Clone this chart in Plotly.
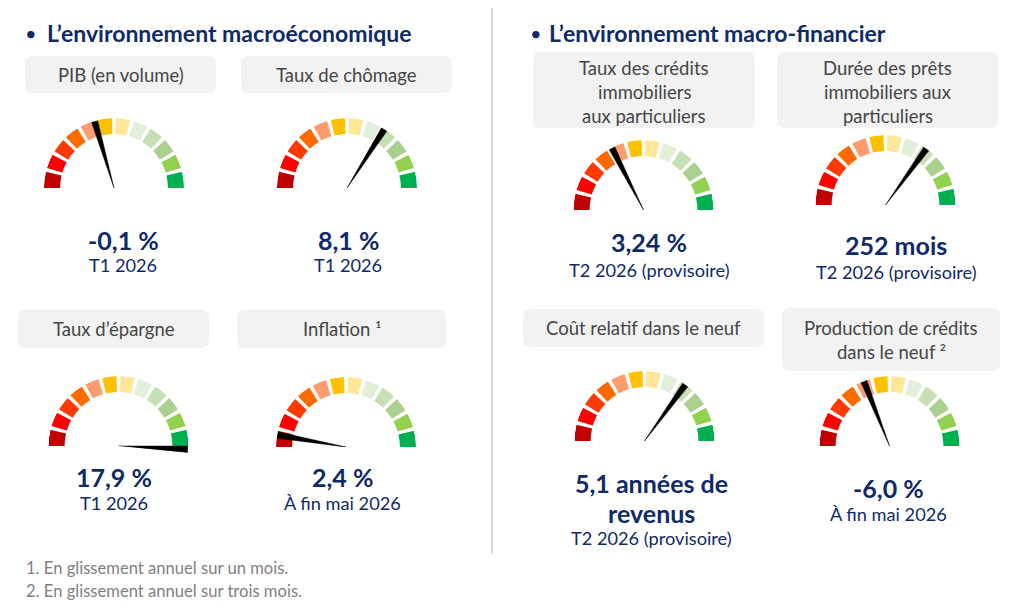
import math
import plotly.graph_objects as go

# Indicateurs (dans l'ordre : 4 macroéconomiques puis 4 macro-financiers)
titres = [
    "PIB (en volume)",
    "Taux de chômage",
    "Taux d’épargne",
    "Inflation ¹",
    "Taux des crédits\nimmobiliers\naux particuliers",
    "Durée des prêts\nimmobiliers aux\nparticuliers",
    "Coût relatif dans le neuf",
    "Production de crédits\ndans le neuf ²",
]
valeurs = ["-0,1 %", "8,1 %", "17,9 %", "2,4 %",
           "3,24 %", "252 mois", "5,1 années de\nrevenus", "-6,0 %"]
periodes = ["T1 2026", "T1 2026", "T1 2026", "À fin mai 2026",
            "T2 2026 (provisoire)", "T2 2026 (provisoire)",
            "T2 2026 (provisoire)", "À fin mai 2026"]
# position de l'aiguille, en % du cadran (0 = rouge, 100 = vert)
aiguilles = [41, 68, 101.5, 5.5, 35, 70, 70, 38]

# 12 graduations du cadran
couleurs = ["#C00000", "#FF0000", "#FF3A00", "#FF6A00", "#FF9C6E", "#FFC000",
            "#FFE699", "#E2EFDA", "#C6E0B4", "#A9D08E", "#92D050", "#00B050"]

titres_sections = ["L’environnement macroéconomique",
                   "L’environnement macro-financier"]
notes = ["1. En glissement annuel sur un mois.",
         "2. En glissement annuel sur trois mois."]

# ---- mise en page (pixels de la fenêtre) ----
W, H = 1024, 614
MARGE = 8          # marge par défaut du <body> de la page
R = 70
DEBORD = 6         # degrés de secteur sous l'horizontale (aiguille > 100 %)
pivots = [(114, 188), (347, 188), (118.5, 446), (346, 447),
          (643.5, 210), (885.5, 205), (644.5, 441), (889.5, 446)]
boites = [(25, 56, 216, 93), (241, 56, 452, 93), (18, 310, 209, 348), (237, 310, 446, 348),
          (533, 52, 755, 128), (777, 52, 998, 128), (523, 309, 764, 347), (782, 308, 1000, 371)]
y_titres = [75, 75, 329, 329, 68, 68, 328, 328]
x_textes = [123, 348, 114, 342, 649, 896, 651, 888]
y_valeurs = [240, 240, 477, 477, 242, 245, 483, 488]
y_periodes = [265, 265, 503, 503, 270, 272, 538, 514]
INTERLIGNE_VALEUR = 30

NAVY = "#0E2A68"
GRIS = "#454545"
POLICE = "Lato"

FW, FH = W - MARGE, H - MARGE


def px_x(x):
    return (x - MARGE) / FW


def px_y(y):
    return 1 - (y - MARGE) / FH


def boite_arrondie(x0, y0, x1, y1, rr=8):
    X0, X1 = px_x(x0), px_x(x1)
    Yh, Yb = px_y(y0), px_y(y1)
    rx, ry = rr / FW, rr / FH
    return (f"M {X0+rx},{Yh} L {X1-rx},{Yh} Q {X1},{Yh} {X1},{Yh-ry} "
            f"L {X1},{Yb+ry} Q {X1},{Yb} {X1-rx},{Yb} L {X0+rx},{Yb} "
            f"Q {X0},{Yb} {X0},{Yb+ry} L {X0},{Yh-ry} Q {X0},{Yh} {X0+rx},{Yh} Z")


pas = 180 / len(couleurs)
ecart = 3.2
debuts = [i * pas + (ecart / 2 if i > 0 else 0) for i in range(len(couleurs))]
fins = [(i + 1) * pas - (ecart / 2 if i < len(couleurs) - 1 else 0) for i in range(len(couleurs))]
centres = [(a + b) / 2 for a, b in zip(debuts, fins)]
largeurs = [b - a for a, b in zip(debuts, fins)]

fig = go.Figure()
layout_polaires = {}
dessous = R * math.sin(math.radians(DEBORD))

for i in range(len(titres)):
    nom = "polar" if i == 0 else f"polar{i+1}"
    cx, cy = pivots[i]

    fig.add_trace(go.Barpolar(
        theta=centres, r=[0.23] * len(couleurs), base=0.77, width=largeurs,
        marker=dict(color=couleurs, line=dict(width=0)),
        subplot=nom, hoverinfo="skip", showlegend=False))

    t = aiguilles[i] * 1.8
    fig.add_trace(go.Scatterpolar(
        r=[0, 0.99, 0.99, 0], theta=[t, t - 2.6, t + 2.6, t],
        mode="lines", fill="toself", fillcolor="black",
        line=dict(width=0.5, color="black"),
        subplot=nom, hoverinfo="skip", showlegend=False))

    layout_polaires[nom] = dict(
        domain=dict(x=[px_x(cx - R), px_x(cx + R)],
                    y=[px_y(cy + dessous), px_y(cy - R)]),
        sector=[-DEBORD, 180 + DEBORD],
        bgcolor="rgba(0,0,0,0)",
        radialaxis=dict(visible=False, range=[0, 1]),
        angularaxis=dict(visible=False, rotation=180, direction="clockwise"),
    )

annotations = []
shapes = []

for i in range(len(titres)):
    x0, y0, x1, y1 = boites[i]
    shapes.append(dict(type="path", path=boite_arrondie(x0, y0, x1, y1),
                       xref="paper", yref="paper", fillcolor="#F2F2F2",
                       line=dict(width=0), layer="below"))
    xc = (x0 + x1) / 2
    for k, ligne in enumerate(titres[i].split("\n")):
        annotations.append(dict(x=px_x(xc), y=px_y(y_titres[i] + 24 * k), text=ligne,
                                xref="paper", yref="paper", showarrow=False,
                                xanchor="center", yanchor="middle",
                                font=dict(family=POLICE, size=18.5, color=GRIS)))
    for k, ligne in enumerate(valeurs[i].split("\n")):
        annotations.append(dict(x=px_x(x_textes[i]),
                                y=px_y(y_valeurs[i] + INTERLIGNE_VALEUR * k),
                                text=f"<b>{ligne}</b>", xref="paper", yref="paper",
                                showarrow=False, xanchor="center", yanchor="middle",
                                font=dict(family=POLICE, size=25, color=NAVY)))
    annotations.append(dict(x=px_x(x_textes[i]), y=px_y(y_periodes[i]), text=periodes[i],
                            xref="paper", yref="paper", showarrow=False,
                            xanchor="center", yanchor="middle",
                            font=dict(family=POLICE, size=18.2, color=NAVY)))

for texte, xb, xt in zip(titres_sections, [31, 536], [45, 547]):
    annotations.append(dict(x=px_x(xb), y=px_y(33), text="•",
                            xref="paper", yref="paper", showarrow=False,
                            xanchor="center", yanchor="middle",
                            font=dict(family=POLICE, size=20, color=NAVY)))
    annotations.append(dict(x=px_x(xt), y=px_y(33), text=f"<b>{texte}</b>",
                            xref="paper", yref="paper", showarrow=False,
                            xanchor="left", yanchor="middle",
                            font=dict(family=POLICE, size=23, color=NAVY)))

for texte, y in zip(notes, [568, 591]):
    annotations.append(dict(x=px_x(24), y=px_y(y), text=texte,
                            xref="paper", yref="paper", showarrow=False,
                            xanchor="left", yanchor="middle",
                            font=dict(family=POLICE, size=16.6, color="#7F7F7F")))

# séparateur vertical
shapes.append(dict(type="line", xref="paper", yref="paper",
                   x0=px_x(492), x1=px_x(492), y0=1, y1=px_y(554),
                   line=dict(color="#DADADA", width=2)))

fig.update_layout(
    width=FW, height=FH,
    margin=dict(l=0, r=0, t=0, b=0),
    paper_bgcolor="white", plot_bgcolor="white",
    annotations=annotations, shapes=shapes,
    showlegend=False,
    **layout_polaires,
)

fig.write_html("out.html")
